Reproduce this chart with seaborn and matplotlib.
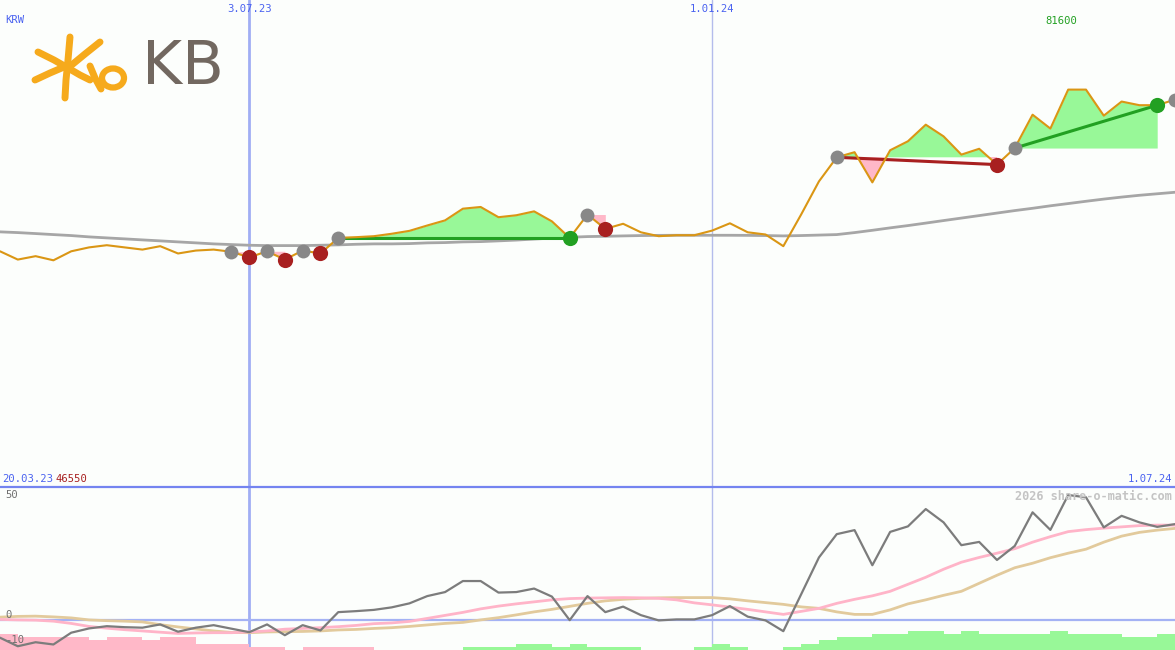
import numpy as np
import pandas as pd
import matplotlib
matplotlib.use("Agg")
import matplotlib.pyplot as plt
import seaborn as sns
from matplotlib.lines import Line2D
from matplotlib.patches import Ellipse
import matplotlib.transforms as mtransforms

# ---------------- data ----------------
start_date = "2023-03-27"
n_weeks = 67
dates = pd.date_range(start_date, periods=n_weeks, freq="7D")

price = [48400, 46700, 47400, 46550, 48400, 49200, 49650, 49200, 48750, 49450,
         47950, 48550, 48750, 48300, 47150, 48400, 46700, 48550, 47950, 51150,
         51300, 51500, 52000, 52600, 53700, 54750, 57150, 57500, 55400, 55800,
         56600, 54550, 51150, 55950, 53000, 54050, 52300, 51500, 51700, 51700,
         52650, 54150, 52300, 51850, 49450, 55950, 62750, 67700, 68750, 62550,
         69150, 71000, 74400, 72000, 68250, 69450, 66200, 69600, 76450, 73600,
         81600, 81600, 76250, 79150, 78400, 78400, 79550]

ma_long = [52390, 52240, 52040, 51830, 51630, 51360, 51150, 50950, 50740, 50540,
           50330, 50130, 49920, 49780, 49640, 49570, 49570, 49570, 49640, 49720,
           49840, 49920, 49920, 49980, 50130, 50190, 50330, 50390, 50540, 50700,
           50910, 51110, 51280, 51420, 51480, 51560, 51630, 51670, 51690, 51690,
           51690, 51690, 51670, 51630, 51560, 51630, 51730, 51830, 52240, 52710,
           53210, 53680, 54190, 54710, 55220, 55730, 56250, 56760, 57230, 57740,
           58200, 58670, 59120, 59530, 59900, 60210, 60520]

osc = [-6.9, -10.3, -8.7, -9.6, -4.9, -3.2, -2.3, -2.7, -2.9, -1.6,
       -4.5, -2.9, -1.9, -3.3, -4.7, -1.6, -5.9, -1.9, -4.0, 3.3,
       3.7, 4.2, 5.2, 6.8, 9.7, 11.3, 15.7, 15.7, 11.1, 11.3,
       12.7, 9.5, 0.1, 9.7, 3.3, 5.5, 2.1, 0.0, 0.4, 0.4,
       2.1, 5.7, 1.5, 0.0, -4.3, 10.4, 25.1, 34.4, 36.0, 22.0,
       35.3, 37.5, 44.4, 39.1, 30.0, 31.3, 24.1, 29.7, 43.1, 36.1,
       50.0, 49.1, 37.1, 41.7, 39.1, 37.3, 38.4]

osc_fast = [0.4, 0.2, 0.1, -0.3, -1.2, -2.4, -3.1, -3.7, -4.2, -4.7,
            -5.2, -5.0, -4.9, -4.9, -4.6, -4.2, -3.5, -3.2, -2.9, -2.5,
            -2.0, -1.3, -1.0, -0.4, 0.8, 2.0, 3.2, 4.6, 5.7, 6.6,
            7.4, 8.2, 8.7, 8.9, 9.0, 9.1, 9.0, 8.8, 8.2, 7.0,
            6.2, 5.3, 4.4, 3.4, 2.4, 3.6, 4.8, 6.8, 8.4, 9.8,
            11.6, 14.4, 17.2, 20.4, 23.2, 25.1, 26.8, 28.6, 31.2, 33.4,
            35.4, 36.2, 36.8, 37.3, 37.8, 38.0, 38.0]

osc_slow = [1.3, 1.6, 1.7, 1.4, 1.0, 0.2, -0.1, -0.3, -0.6, -1.7,
            -2.6, -3.4, -4.2, -4.8, -4.9, -4.6, -4.5, -4.4, -4.2, -3.8,
            -3.6, -3.2, -2.9, -2.4, -1.8, -1.2, -0.8, 0.2, 1.1, 2.2,
            3.4, 4.4, 5.6, 6.8, 7.8, 8.4, 8.8, 9.0, 9.1, 9.1,
            9.1, 8.6, 7.8, 7.1, 6.4, 5.4, 4.8, 3.4, 2.4, 2.4,
            4.2, 6.6, 8.2, 10.0, 11.6, 14.8, 18.0, 21.0, 22.8, 25.0,
            26.8, 28.4, 31.2, 33.6, 35.1, 36.0, 36.7]

bar_level = [-5, -4, -4, -4, -4, -3, -4, -4, -3, -4,
             -4, -2, -2, -2, -1, -1, 0, -1, -1, -1,
             -1, 0, 0, 0, 0, 0, 1, 1, 1, 2,
             2, 1, 2, 1, 1, 1, 0, 0, 0, 1,
             2, 1, 0, 0, 1, 2, 3, 4, 4, 5,
             5, 6, 6, 5, 6, 5, 5, 5, 5, 6,
             5, 5, 5, 4, 4, 5, 5]

trade_entry = [13, 15, 17, 19, 33, 47, 57, 66]
trade_exit = [14, 16, 18, 32, 34, 56, 65]

label_top = ["3.07.23", "1.01.24"]
label_top_dates = ["2023-07-03", "2024-01-01"]
label_start = "20.03.23"
label_end = "1.07.24"
label_max = "81600"
label_min = "46550"
osc_ticks = [50, 0, -10]

# ---------------- style ----------------
BG = "#fcfefc"
ORANGE = "#da9614"
GREEN = "#22a022"
LGREEN = "#98f898"
PINK = "#ffb8c8"
DRED = "#a82020"
GRAYDOT = "#888888"
BLUE_T = "#4a62f0"

sns.set_style("white")
plt.rcParams["font.family"] = ["DejaVu Sans Mono", "DejaVu Sans"]

W, H = 1175, 650
fig = plt.figure(figsize=(W / 100, H / 100), dpi=100, facecolor=BG)
split = 487
ax1 = fig.add_axes([0, (H - split) / H, 1, split / H])
ax2 = fig.add_axes([0, 0, 1, (H - split) / H])

xmin = pd.Timestamp(start_date)
xmax = pd.Timestamp("2024-07-01")
for ax in (ax1, ax2):
    ax.set_facecolor(BG)
    ax.set_xlim(xmin, xmax)
    ax.set_axis_off()
ax1.set_ylim(0, 100000)
ax2.set_ylim(-11.8, 53.2)

df = pd.DataFrame({"date": dates, "price": price, "ma": ma_long,
                   "osc": osc, "fast": osc_fast, "slow": osc_slow,
                   "bar": bar_level})

# vertical date lines
for d, lw, c in zip(label_top_dates, [2.0, 1.0], ["#a0aef4", "#b4bcec"]):
    for ax in (ax1, ax2):
        ax.axvline(pd.Timestamp(d), color=c, lw=lw, zorder=1)

# ---------------- upper panel ----------------
sns.lineplot(data=df, x="date", y="ma", ax=ax1, color="#a6a6a6", lw=2.0, zorder=2)

p = np.array(price, dtype=float)
for k, e in enumerate(trade_entry):
    if k >= len(trade_exit):
        continue
    x = trade_exit[k]
    seg = slice(e, x + 1)
    base = p[e]
    dd = dates[seg]
    ax1.fill_between(dd, base, p[seg], where=p[seg] >= base, interpolate=True,
                     color=LGREEN, lw=0, zorder=2)
    ax1.fill_between(dd, base, p[seg], where=p[seg] <= base, interpolate=True,
                     color=PINK, lw=0, zorder=2)
    col = GREEN if p[x] >= base else DRED
    if x - e > 1:
        ax1.plot([dates[e], dates[x]], [p[e], p[x]], color=col, lw=2.2, zorder=3)

sns.lineplot(data=df, x="date", y="price", ax=ax1, color=ORANGE, lw=1.5, zorder=4)

ent = df.iloc[trade_entry]
sns.scatterplot(data=ent, x="date", y="price", ax=ax1, color=GRAYDOT, s=100,
                linewidth=0, zorder=5)
ex_idx = list(trade_exit)
ex_col = [GREEN if p[x] >= p[trade_entry[k]] else DRED for k, x in enumerate(ex_idx)]
ex = df.iloc[ex_idx].assign(c=ex_col)
for c in (GREEN, DRED):
    sub = ex[ex["c"] == c]
    sns.scatterplot(data=sub, x="date", y="price", ax=ax1, color=c, s=120,
                    linewidth=0, zorder=5)

# ---------------- lower panel ----------------
ax2.axhline(0, color="#a4b2f4", lw=1.6, zorder=1)
lvl = np.array(bar_level)
ymin2 = ax2.get_ylim()[0]
ax2.bar(dates, np.abs(lvl) * 1.28, bottom=ymin2, width=7, align="edge",
        color=[PINK if v < 0 else LGREEN for v in lvl], lw=0, zorder=1)
sns.lineplot(data=df, x="date", y="slow", ax=ax2, color="#e2ca9c", lw=2.0, zorder=2)
sns.lineplot(data=df, x="date", y="fast", ax=ax2, color="#ffb4c8", lw=2.0, zorder=2)
sns.lineplot(data=df, x="date", y="osc", ax=ax2, color="#7c7c7c", lw=1.6, zorder=3)
for ax in (ax1, ax2):
    ax.set_xlabel("")
    ax.set_ylabel("")
    ax.set_xlim(xmin, xmax)
ax2.set_ylim(-11.8, 53.2)

# separator
fig.add_artist(Line2D([0, 1], [(H - split) / H] * 2, transform=fig.transFigure,
                      color="#7484f0", lw=1.6))

# ---------------- texts ----------------
def fx(x):
    return x / W

def fy(y):
    return 1 - y / H

fs = 7.6
trans_top = mtransforms.blended_transform_factory(ax1.transData, fig.transFigure)
for lab, d in zip(label_top, label_top_dates):
    ax1.text(pd.Timestamp(d), fy(9), lab, transform=trans_top, ha="center",
             va="center", color=BLUE_T, fontsize=fs)
fig.text(fx(5), fy(20), "KRW", color=BLUE_T, fontsize=fs, va="center", ha="left")
fig.text(fx(1061), fy(21), label_max, color=GREEN, fontsize=fs, va="center", ha="center")
fig.text(fx(2), fy(479), label_start, color=BLUE_T, fontsize=fs, va="center", ha="left")
fig.text(fx(56), fy(479), label_min, color=DRED, fontsize=fs, va="center", ha="left")
fig.text(fx(1172), fy(479), label_end, color=BLUE_T, fontsize=fs, va="center", ha="right")
for t, yy in zip(osc_ticks, [495, 615, 640]):
    fig.text(fx(5), fy(yy), str(t), color="#707070", fontsize=fs, va="center", ha="left")
fig.text(fx(1172), fy(496), "2026 share-o-matic.com", color="#c4c4c4",
         fontsize=8.6, fontweight="bold", va="center", ha="right")

# ---------------- KB logo ----------------
LOGO_O = "#f6aa1c"
strokes = [
    [(38, 52), (54, 60), (68, 68)],
    [(35, 80), (50, 73), (64, 67)],
    [(70, 37), (68, 60), (66, 80), (65, 98)],
    [(68, 68), (85, 54), (100, 42)],
    [(68, 68), (80, 75), (90, 80)],
    [(90, 66), (95, 78), (101, 89)],
]
for s in strokes:
    xs = [fx(a) for a, b in s]
    ys = [fy(b) for a, b in s]
    fig.add_artist(Line2D(xs, ys, transform=fig.transFigure, color=LOGO_O, lw=5.0,
                          solid_capstyle="round", solid_joinstyle="round"))
fig.add_artist(Ellipse((fx(113), fy(78)), 22 / W, 19 / H, transform=fig.transFigure,
                       fill=False, edgecolor=LOGO_O, lw=4.5))
fig.text(fx(142), fy(67), "KB", color="#726860", fontsize=44,
         family=["DejaVu Sans"], va="center", ha="left")

fig.savefig("out.png", dpi=100, facecolor=BG)
